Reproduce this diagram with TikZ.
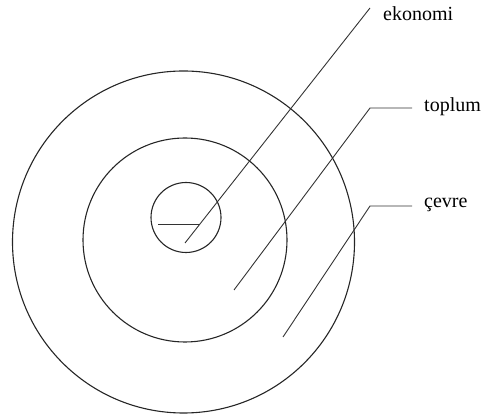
\documentclass[tikz,border=0pt]{standalone}
\usepackage{fontspec}
\setmainfont{Liberation Serif}
\begin{document}
\begin{tikzpicture}[x=1pt,y=-1pt,
  ring/.style={draw=black!85,line width=1.1pt},
  leader/.style={draw=black!80,line width=0.9pt},
  lbl/.style={anchor=west,inner sep=0pt,font=\fontsize{20}{22}\selectfont}]
\useasboundingbox (0,0) rectangle (490,419);
\draw[ring] (183.5,242) circle (171);
\draw[ring] (185,240) circle (102);
\draw[ring] (186,217.5) circle (35);
\coordinate (h1) at (158,224);
\coordinate (h2) at (200,224);
\draw[leader] (h1) -- (h2);
\coordinate (e0) at (185,243);
\coordinate (e1) at (370,8);
\node[lbl] (ek) at (383,14) {ekonomi};
\draw[leader] (e0) -- (e1);
\coordinate (t0) at (234,290);
\coordinate (t1) at (370,108);
\coordinate (t2) at (412,108);
\node[lbl] (tp) at (424,107) {toplum};
\draw[leader] (t0) -- (t1) -- (t2);
\coordinate (c0) at (283,337);
\coordinate (c1) at (370,206);
\coordinate (c2) at (412,206);
\node[lbl] (cv) at (424,205) {çevre};
\draw[leader] (c0) -- (c1) -- (c2);
\end{tikzpicture}
\end{document}
